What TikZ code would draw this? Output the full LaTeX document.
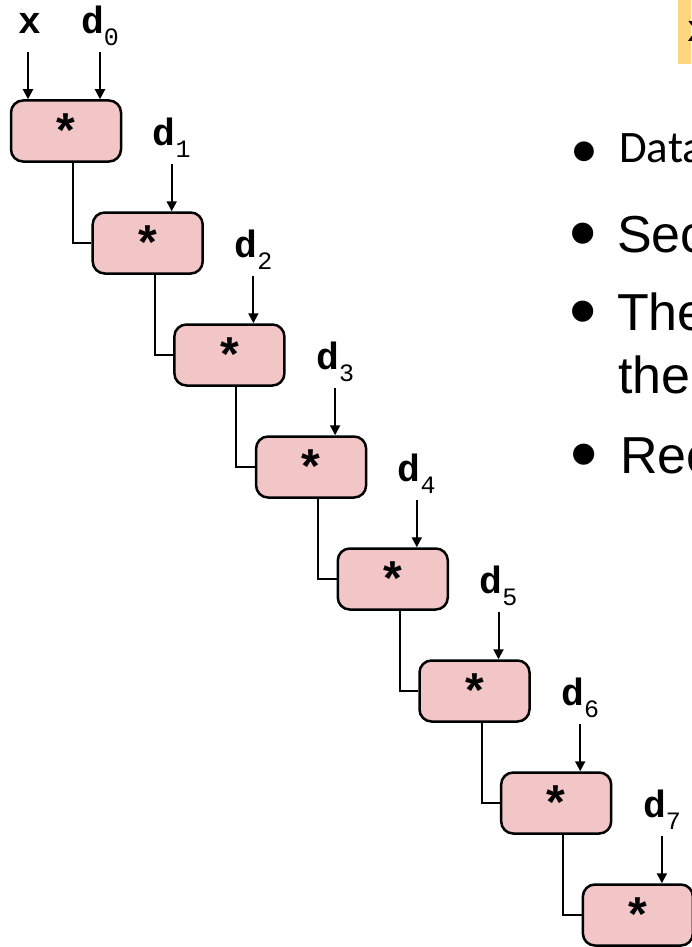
\documentclass[tikz,border=0pt]{standalone}
\usepackage{fontspec}
\setmonofont{Liberation Mono}
\newfontfamily\arialfont{Liberation Sans}
\newfontfamily\calibrifont{Carlito}
\usetikzlibrary{positioning,arrows.meta}
\definecolor{boxpink}{RGB}{242,198,198}
\definecolor{codegold}{RGB}{254,214,127}
\newcommand{\dvar}[1]{\textbf{d}\raisebox{-12pt}{\fontsize{25}{25}\selectfont\mdseries #1}}

\begin{document}
\begin{tikzpicture}[x=1pt,y=-1pt,>={Triangle[width=10pt,length=10pt]},node distance=112pt,
  mul node/.style={draw,line width=2.5pt,rounded corners=12pt,fill=boxpink,minimum width=110pt,minimum height=61pt,inner sep=0pt,font=\ttfamily\bfseries\fontsize{48}{48}\selectfont},
  var node/.style={inner sep=0pt,text depth=12pt,font=\ttfamily\fontsize{38}{38}\selectfont},
  bullet/.style={anchor=base west,inner sep=0pt,font=\arialfont\fontsize{52}{52}\selectfont},
  big dot/.style={anchor=base west,inner sep=0pt,font=\arialfont\fontsize{78}{78}\selectfont},
  small bullet/.style={anchor=base west,inner sep=0pt,font=\calibrifont\fontsize{45}{45}\selectfont},
  small dot/.style={anchor=base west,inner sep=0pt,font=\calibrifont\fontsize{56}{56}\selectfont}]
            \useasboundingbox (0,0) rectangle (691,947);

            % chain of multiplications
            \node[mul node] (1) at (66,131) {\raisebox{-6pt}{*}};
            \node[mul node] (2) [below of=1, xshift=81.7pt] {\raisebox{-6pt}{*}};
            \node[mul node] (3) [below of=2, xshift=81.7pt] {\raisebox{-6pt}{*}};
            \node[mul node] (4) [below of=3, xshift=81.7pt] {\raisebox{-6pt}{*}};
            \node[mul node] (5) [below of=4, xshift=81.7pt] {\raisebox{-6pt}{*}};
            \node[mul node] (6) [below of=5, xshift=81.7pt] {\raisebox{-6pt}{*}};
            \node[mul node] (7) [below of=6, xshift=81.7pt] {\raisebox{-6pt}{*}};
            \node[mul node] (8) [below of=7, xshift=81.7pt] {\raisebox{-6pt}{*}};

            % inputs
            \node[var node] (x) [above=54pt of 1.north, xshift=-36pt] {\textbf{x}};
            \node[var node] (d0) [above=54pt of 1.north, xshift=34pt] {\dvar{0}};
            \node[var node] (d1) [above=54pt of 2.north, xshift=24pt] {\dvar{1}};
            \node[var node] (d2) [above=54pt of 3.north, xshift=24pt] {\dvar{2}};
            \node[var node] (d3) [above=54pt of 4.north, xshift=24pt] {\dvar{3}};
            \node[var node] (d4) [above=54pt of 5.north, xshift=24pt] {\dvar{4}};
            \node[var node] (d5) [above=54pt of 6.north, xshift=24pt] {\dvar{5}};
            \node[var node] (d6) [above=54pt of 7.north, xshift=24pt] {\dvar{6}};
            \node[var node] (d7) [above=54pt of 8.north, xshift=24pt] {\dvar{7}};

            \path[->,line width=2pt,shorten <=7pt]
                    ([xshift=-2pt]x.south) edge ([xshift=-2pt]x.south |- 1.north)
                    (d0.south) edge (d0.south |- 1.north)
                    (d1.south) edge (d1.south |- 2.north)
                    (d2.south) edge (d2.south |- 3.north)
                    (d3.south) edge (d3.south |- 4.north)
                    (d4.south) edge (d4.south |- 5.north)
                    (d5.south) edge (d5.south |- 6.north)
                    (d6.south) edge (d6.south |- 7.north)
                    (d7.south) edge (d7.south |- 8.north)
                ;

            \draw[line width=2pt] ([xshift=7pt]1.south) |- (2.west);
            \draw[line width=2pt] ([xshift=7pt]2.south) |- (3.west);
            \draw[line width=2pt] ([xshift=7pt]3.south) |- (4.west);
            \draw[line width=2pt] ([xshift=7pt]4.south) |- (5.west);
            \draw[line width=2pt] ([xshift=7pt]5.south) |- (6.west);
            \draw[line width=2pt] ([xshift=7pt]6.south) |- (7.west);
            \draw[line width=2pt] ([xshift=7pt]7.south) |- (8.west);

            % slide text on the right
            \fill[codegold] (678,0) rectangle (691,64);
            \node[anchor=base west,inner sep=0pt,font=\ttfamily\bfseries\fontsize{38}{38}\selectfont] (code) at (687,42) {x};

            \node[small dot] (b1) at (570,167) {•};
            \node[small bullet] (t1) at (619,162) {Data};
            \node[big dot] (b2) at (569,259) {•};
            \node[bullet] (t2) at (617,252) {Sec};
            \node[big dot] (b3) at (569,337) {•};
            \node[bullet] (t3) at (617,330) {The};
            \node[bullet] (t3b) at (618,393) {the};
            \node[big dot] (b4) at (570,480) {•};
            \node[bullet] (t4) at (620,473) {Rec};
\end{tikzpicture}
\end{document}
